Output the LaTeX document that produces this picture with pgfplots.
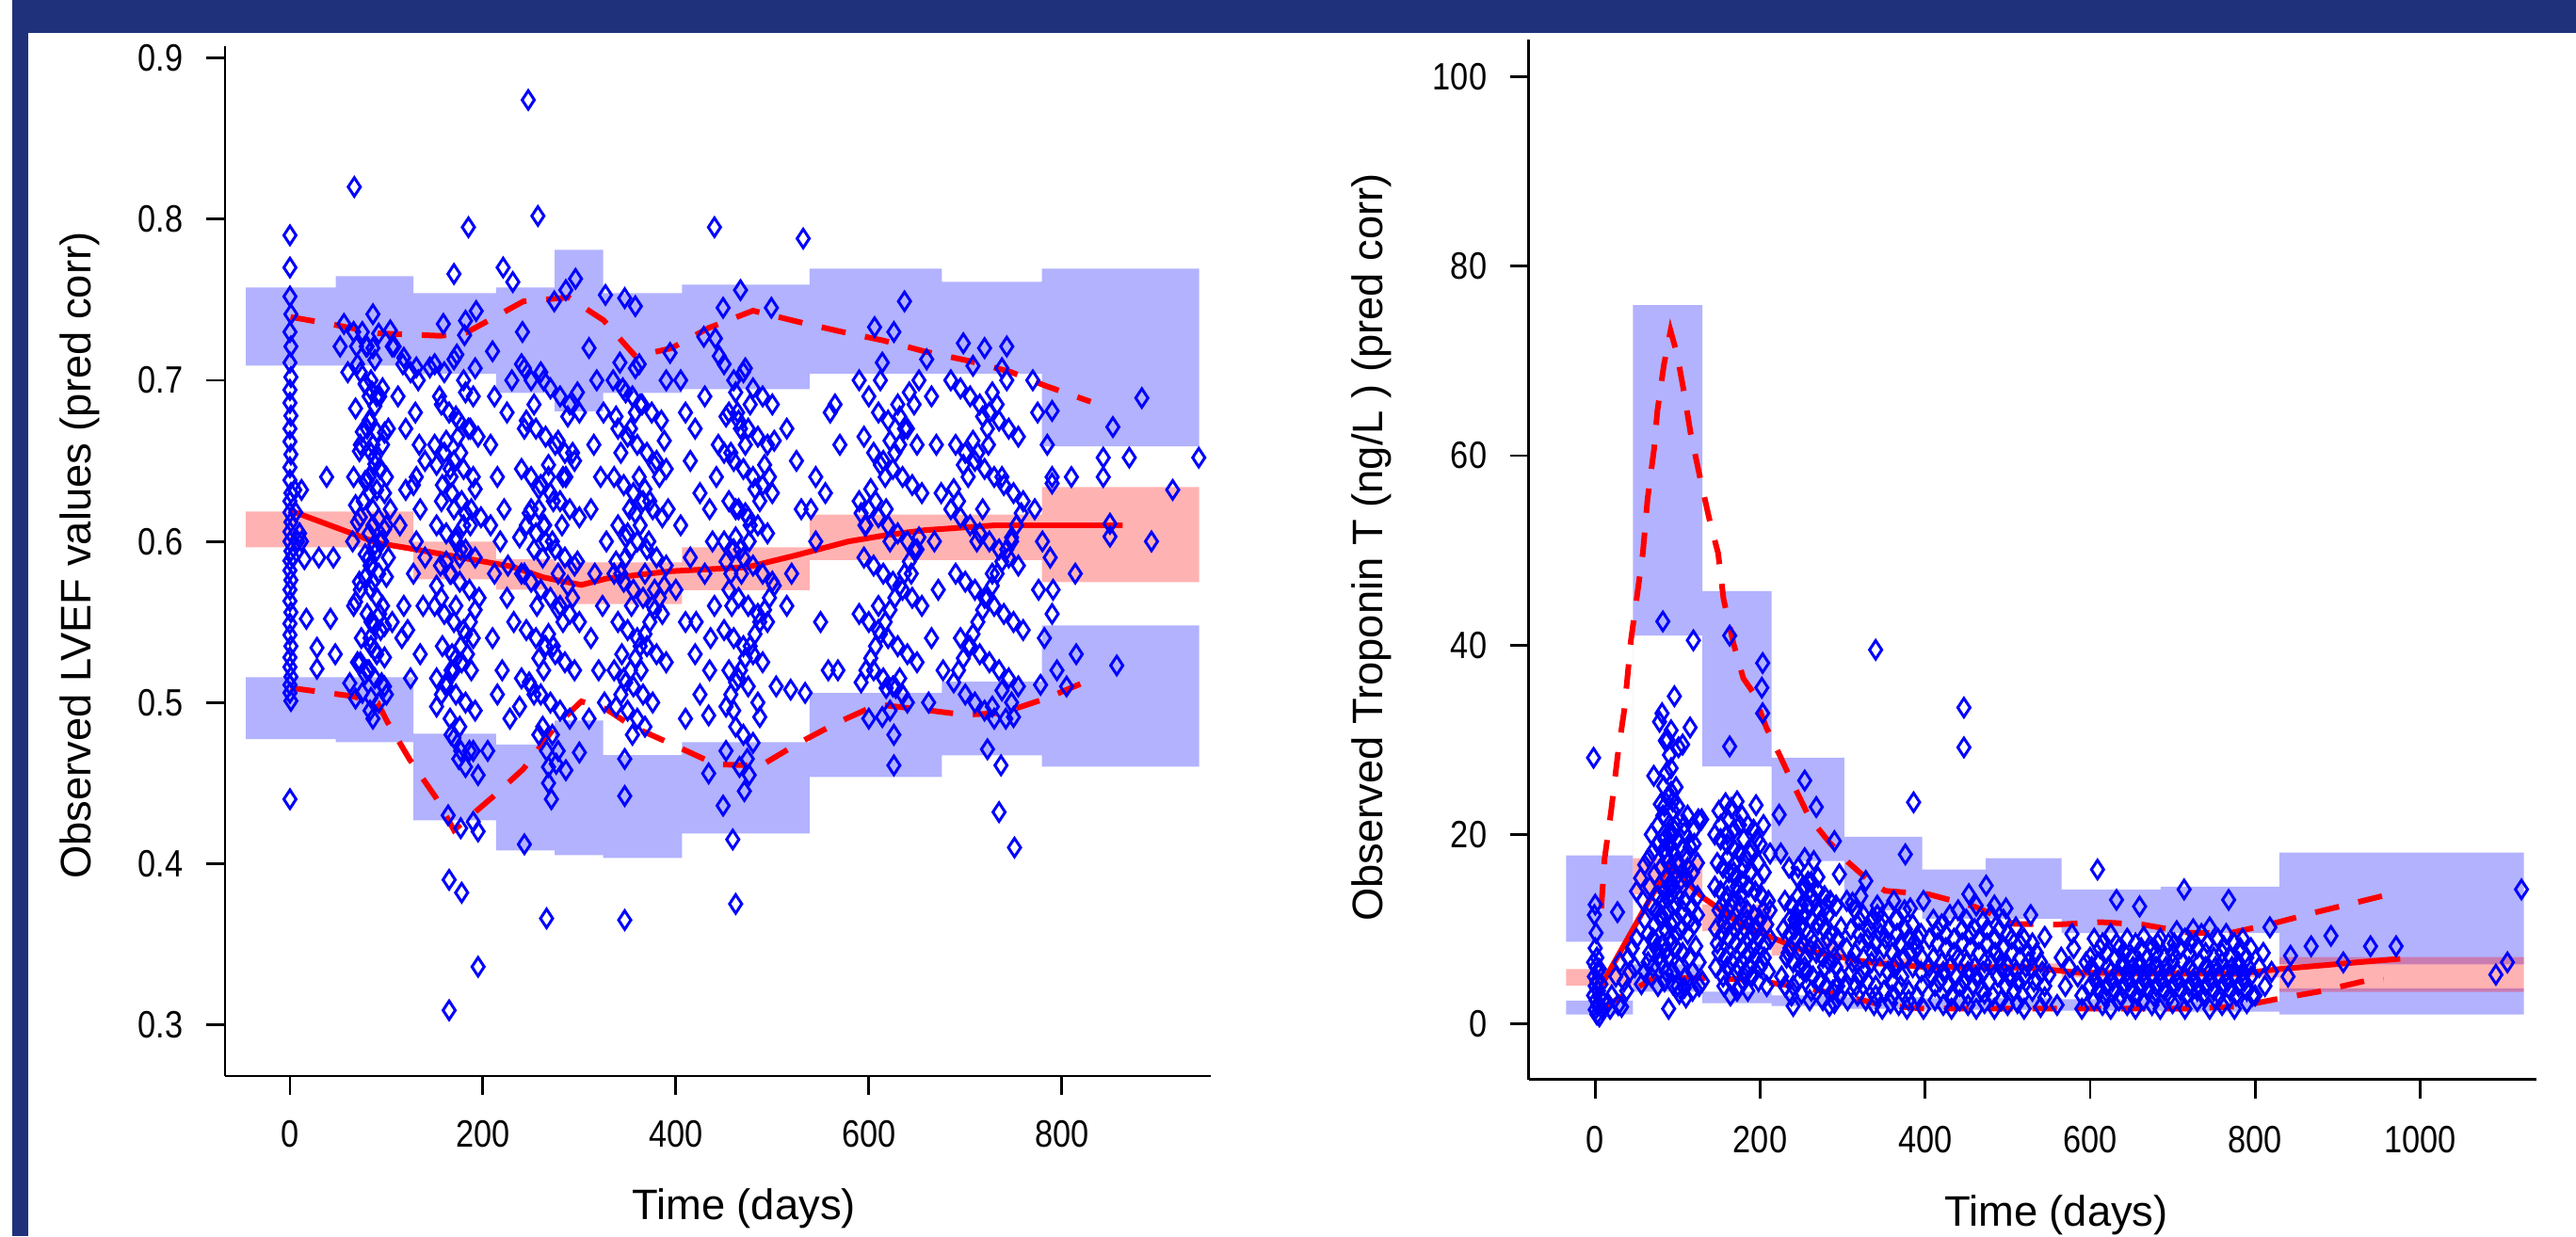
\documentclass[border=0pt]{standalone}
\usepackage{fontspec}
\setmainfont{Liberation Sans}
\newfontfamily\narrowsans[FakeStretch=0.85]{Liberation Sans}
\usepackage{pgfplots}
\pgfplotsset{compat=1.18}

\definecolor{navy}{RGB}{31,49,122}

\pgfplotsset{
  vpc/.style={
    scale only axis,
    anchor=south west,
    axis x line*=bottom,
    axis y line*=left,
    axis line style={line width=0.8pt},
    tick style={line width=0.8pt, black},
    tick align=outside,
    major tick length=2mm,
    tick label style={font=\narrowsans\fontsize{11.5}{13}\selectfont},
    label style={font=\fontsize{12.9}{15}\selectfont},
    /pgf/number format/assume math mode=true,
    /pgf/number format/1000 sep={},
    yticklabel style={anchor=east, xshift=-1.2mm},
  },
  band/.style={draw=none, fill=blue, fill opacity=0.3},
  pband/.style={draw=none, fill=red, fill opacity=0.3},
  obs/.style={only marks, mark=diamond, mark size=2.8pt, blue, mark options={xscale=0.88, line width=0.85pt}},
  med/.style={red, line width=1.7pt, no marks},
  pct/.style={red, line width=1.7pt, no marks, dash pattern=on 2.6mm off 2.1mm},
}

\begin{document}
\begin{tikzpicture}
\path[use as bounding box] (0,0) rectangle (273.6mm,131.3mm);
\fill[navy] (1.33mm,0) rectangle (2.97mm,131.3mm);
\fill[navy] (1.33mm,127.8mm) rectangle (273.6mm,131.3mm);

% ---------------- left: LVEF ----------------
\begin{axis}[vpc,
  at={(23.9mm,17.0mm)}, width=104.7mm, height=109.4mm,
  xmin=-67.3, xmax=954.5, ymin=0.2682, ymax=0.9074,
  xtick={0,200,400,600,800},
  ytick={0.3,0.4,0.5,0.6,0.7,0.8,0.9},
  xticklabel style={anchor=center, yshift=-4.2mm},
  yticklabel style={/pgf/number format/.cd, fixed, precision=1},
  xlabel={Time (days)},
  ylabel={Observed LVEF values (pred corr)},
  xlabel style={at={(axis description cs:0.5263,-0.1289)}, anchor=center},
  ylabel style={at={(axis description cs:-0.1471,0.5055)}, anchor=center},
]
% prediction intervals of the 5th and 95th percentiles
\addplot[band] coordinates {
 (-45.6,0.7576) (47.4,0.7576) (47.4,0.7646) (128.0,0.7646) (128.0,0.7541) (213.7,0.7541)
 (213.7,0.7576) (274.4,0.7576) (274.4,0.7810) (324.6,0.7810) (324.6,0.7541) (406.5,0.7541)
 (406.5,0.7594) (538.5,0.7594) (538.5,0.7693) (675.7,0.7693) (675.7,0.7611) (779.3,0.7611)
 (779.3,0.7693) (942.3,0.7693) (942.3,0.6590) (779.3,0.6590) (779.3,0.7042) (538.5,0.7042)
 (538.5,0.6945) (406.5,0.6945) (406.5,0.6922) (324.6,0.6922) (324.6,0.6808) (274.4,0.6808)
 (274.4,0.6922) (213.7,0.6922) (213.7,0.7042) (128.0,0.7042) (128.0,0.7091) (-45.6,0.7091)
} -- cycle;
\addplot[band] coordinates {
 (-45.6,0.5157) (128.0,0.5157) (128.0,0.4807) (213.7,0.4807) (213.7,0.4740) (274.4,0.4740)
 (274.4,0.4888) (324.6,0.4888) (324.6,0.4674) (406.5,0.4674) (406.5,0.4754) (538.5,0.4754)
 (538.5,0.5060) (675.7,0.5060) (675.7,0.5130) (779.3,0.5130) (779.3,0.5479) (942.3,0.5479)
 (942.3,0.4602) (779.3,0.4602) (779.3,0.4672) (675.7,0.4672) (675.7,0.4538) (538.5,0.4538)
 (538.5,0.4187) (406.5,0.4187) (406.5,0.4035) (324.6,0.4035) (324.6,0.4053) (274.4,0.4053)
 (274.4,0.4082) (213.7,0.4082) (213.7,0.4269) (128.0,0.4269) (128.0,0.4754) (47.4,0.4754)
 (47.4,0.4773) (-45.6,0.4773)
} -- cycle;
% prediction interval of the median
\addplot[pband] coordinates {
 (-45.6,0.6186) (128.0,0.6186) (128.0,0.5999) (213.7,0.5999) (213.7,0.5889) (274.4,0.5889)
 (274.4,0.5870) (406.5,0.5870) (406.5,0.5963) (538.5,0.5963) (538.5,0.6166) (779.3,0.6166)
 (779.3,0.6337) (942.3,0.6337) (942.3,0.5747) (779.3,0.5747) (779.3,0.5884) (538.5,0.5884)
 (538.5,0.5698) (406.5,0.5698) (406.5,0.5611) (274.4,0.5611) (274.4,0.5701) (213.7,0.5701)
 (213.7,0.5765) (128.0,0.5765) (128.0,0.5963) (-45.6,0.5963)
} -- cycle;

% observations
\addplot[obs] coordinates {
 (0,0.790) (0,0.770) (0,0.752) (1,0.741) (0,0.730) (1,0.721) (0,0.711) (1,0.702) (0,0.694)
 (0,0.686) (1,0.678) (0,0.670) (0,0.662) (1,0.654) (0,0.646) (0,0.638) (1,0.630) (0,0.625)
 (0,0.618) (1,0.612) (0,0.606) (0,0.600) (1,0.594) (0,0.588) (0,0.582) (1,0.576) (0,0.570)
 (0,0.563) (1,0.556) (0,0.549) (0,0.542) (1,0.535) (0,0.528) (0,0.522) (1,0.516) (0,0.511)
 (0,0.506) (1,0.501) (0,0.440) (5,0.632) (8,0.600) (6,0.618) (3,0.590) (10,0.605) (12,0.632)
 (12,0.600) (15,0.589) (28,0.521) (38,0.640) (30,0.590) (17,0.552) (42,0.552) (28,0.534)
 (45,0.590) (47,0.530)
 (56,0.735) (66,0.730) (75,0.730) (80,0.721) (86,0.741) (92,0.729) (104,0.731) (108,0.721)
 (60,0.705) (70,0.710) (78,0.698) (85,0.693) (90,0.690) (96,0.695) (88,0.684) (82,0.675)
 (75,0.668) (90,0.668) (96,0.660) (72,0.656) (84,0.655) (88,0.648) (94,0.645) (66,0.640)
 (80,0.638) (90,0.632) (98,0.630) (76,0.625) (86,0.620) (92,0.614) (100,0.610) (70,0.612)
 (82,0.605) (88,0.598) (95,0.600) (65,0.600) (78,0.592) (85,0.585) (92,0.580) (100,0.578)
 (72,0.575) (84,0.570) (90,0.565) (96,0.560) (66,0.560) (80,0.555) (88,0.548) (94,0.545)
 (74,0.540) (84,0.535) (90,0.530) (98,0.528) (70,0.525) (80,0.520) (88,0.515) (95,0.512)
 (62,0.512) (75,0.506) (84,0.503) (92,0.500) (100,0.505) (86,0.490) (102,0.590) (104,0.620)
 (106,0.550) (100,0.640) (102,0.670) (84,0.700) (86,0.720) (82,0.690) (80,0.670) (86,0.660)
 (82,0.640) (86,0.610) (82,0.590) (86,0.575) (84,0.550) (82,0.520) (52,0.721) (69,0.721)
 (79,0.721) (106,0.721) (66.7,0.820)
 (68,0.5025) (78,0.5175) (88,0.5325) (98,0.5475) (68,0.5625) (78,0.5775) (88,0.5925)
 (98,0.6075) (68,0.6225) (78,0.6375) (88,0.6525) (98,0.6675) (68,0.6825) (78,0.6975)
 (88,0.7125) (98,0.5100) (73,0.5250) (83,0.5400) (93,0.5550) (73,0.5700) (83,0.5850)
 (93,0.6000) (73,0.6150) (83,0.6300) (93,0.6450) (73,0.6600) (83,0.6750) (93,0.6900)
 (73,0.7050) (83,0.4950)
 (118,0.714) (125,0.705) (130,0.680) (131,0.640) (120,0.632) (135,0.620) (131,0.600)
 (128,0.580) (118,0.560) (122,0.545) (135,0.530) (125,0.515) (140,0.650) (138,0.560)
 (114,0.610) (120,0.670) (133,0.700) (112,0.690) (128,0.635) (140,0.590) (116,0.540)
 (134,0.660) (117,0.710) (131,0.708) (145,0.708)
 (150,0.710) (160,0.705) (170,0.713) (180,0.700) (190,0.690) (155,0.690) (165,0.680)
 (175,0.675) (185,0.670) (195,0.665) (150,0.660) (160,0.655) (170,0.650) (180,0.645)
 (190,0.640) (158,0.635) (168,0.630) (178,0.625) (188,0.620) (198,0.615) (152,0.610)
 (162,0.605) (172,0.600) (182,0.595) (192,0.590) (156,0.585) (166,0.580) (176,0.575)
 (186,0.570) (196,0.565) (150,0.560) (160,0.555) (170,0.550) (180,0.545) (190,0.540)
 (158,0.535) (168,0.530) (178,0.525) (188,0.520) (152,0.515) (162,0.510) (172,0.505)
 (182,0.500) (192,0.495) (166,0.490) (176,0.485) (170,0.478) (186,0.470) (175,0.465)
 (182,0.460) (190,0.470) (195,0.455) (164,0.430) (177,0.422) (190,0.426) (195,0.420)
 (165,0.390) (178,0.382) (195,0.336) (165,0.309) (170,0.620) (172,0.560) (176,0.590)
 (166,0.645) (174,0.665) (180,0.610) (184,0.530) (170,0.520) (170,0.766) (185,0.795)
 (193,0.743) (182,0.737) (159,0.735) (181,0.728) (173,0.716)
 (152,0.4975) (162,0.5125) (172,0.5275) (182,0.5425) (192,0.5575) (152,0.5725) (162,0.5875)
 (172,0.6025) (182,0.6175) (192,0.6325) (152,0.6475) (162,0.6625) (172,0.6775) (182,0.6925)
 (192,0.7075) (157,0.5050) (167,0.5200) (177,0.5350) (187,0.5500) (157,0.5650) (167,0.5800)
 (177,0.5950) (187,0.6100) (157,0.6250) (167,0.6400) (177,0.6550) (187,0.6700) (157,0.6850)
 (167,0.4800) (177,0.4700)
 (210,0.718) (221,0.770) (231,0.761) (208,0.660) (215,0.640) (222,0.620) (218,0.600)
 (212,0.580) (225,0.565) (210,0.540) (220,0.520) (215,0.505) (228,0.490) (205,0.470)
 (225,0.680) (230,0.700) (212,0.690) (232,0.550) (208,0.610) (226,0.585)
 (241,0.730) (247,0.874) (257,0.802) (274,0.749) (286,0.756) (296,0.763) (240,0.710)
 (250,0.700) (260,0.705) (270,0.695) (280,0.690) (290,0.685) (300,0.680) (245,0.675)
 (255,0.670) (265,0.665) (275,0.660) (285,0.655) (295,0.650) (240,0.645) (250,0.640)
 (260,0.635) (270,0.630) (280,0.625) (290,0.620) (300,0.615) (245,0.610) (255,0.605)
 (265,0.600) (275,0.595) (285,0.590) (295,0.585) (240,0.580) (250,0.575) (260,0.570)
 (270,0.565) (280,0.560) (290,0.555) (300,0.550) (245,0.545) (255,0.540) (265,0.535)
 (275,0.530) (285,0.525) (295,0.520) (240,0.515) (250,0.510) (260,0.505) (270,0.500)
 (280,0.495) (290,0.490) (262,0.485) (272,0.480) (266,0.470) (276,0.462) (286,0.458)
 (300,0.469) (243,0.412) (266,0.366) (271,0.440) (268,0.450) (258,0.620) (264,0.610)
 (262,0.590) (268,0.640) (272,0.600) (256,0.560) (282,0.610) (278,0.580) (250,0.620)
 (286,0.640)
 (238,0.4975) (248,0.5125) (258,0.5275) (268,0.5425) (278,0.5575) (288,0.5725) (298,0.5875)
 (238,0.6025) (248,0.6175) (258,0.6325) (268,0.6475) (278,0.6625) (288,0.6775) (298,0.6925)
 (243,0.7075) (253,0.5050) (263,0.5200) (273,0.5350) (283,0.5500) (293,0.5650) (243,0.5800)
 (253,0.5950) (263,0.6100) (273,0.6250) (283,0.6400) (293,0.6550) (243,0.6700) (253,0.6850)
 (263,0.7000) (258,0.4800) (268,0.4600) (278,0.4700)
 (310,0.720) (318,0.700) (325,0.680) (315,0.660) (322,0.640) (312,0.620) (328,0.600)
 (316,0.580) (324,0.560) (312,0.540) (320,0.520) (326,0.500) (327,0.753) (310,0.490)
 (342,0.711) (347,0.751) (358,0.746) (362,0.710) (335,0.700) (345,0.695) (355,0.690)
 (365,0.685) (375,0.680) (385,0.675) (340,0.670) (350,0.665) (360,0.660) (370,0.655)
 (380,0.650) (390,0.645) (336,0.640) (346,0.635) (356,0.630) (366,0.625) (376,0.620)
 (386,0.615) (340,0.610) (350,0.605) (360,0.600) (370,0.595) (380,0.590) (390,0.585)
 (336,0.580) (346,0.575) (356,0.570) (366,0.565) (376,0.560) (386,0.555) (340,0.550)
 (350,0.545) (360,0.540) (370,0.535) (380,0.530) (390,0.525) (336,0.520) (346,0.515)
 (356,0.510) (366,0.505) (376,0.500) (350,0.495) (360,0.490) (347,0.465) (347,0.442)
 (347,0.365) (352,0.620) (348,0.590) (354,0.560) (344,0.530) (358,0.680) (362,0.640)
 (368,0.580) (372,0.600) (378,0.570) (364,0.520) (394,0.717) (390,0.700) (392,0.620)
 (338,0.4975) (348,0.5125) (358,0.5275) (368,0.5425) (378,0.5575) (388,0.5725) (338,0.5875)
 (348,0.6025) (358,0.6175) (368,0.6325) (378,0.6475) (388,0.6625) (338,0.6775) (348,0.6925)
 (358,0.7075) (343,0.5050) (353,0.5200) (363,0.5350) (373,0.5500) (383,0.5650) (343,0.5800)
 (353,0.5950) (363,0.6100) (373,0.6250) (383,0.6400) (343,0.6550) (353,0.6700) (363,0.6850)
 (368,0.4850) (355,0.4800)
 (405,0.700) (410,0.680) (420,0.670) (430,0.690) (441,0.726) (429,0.727) (445,0.715)
 (440,0.795) (415,0.650) (425,0.630) (435,0.620) (405,0.610) (415,0.590) (430,0.580)
 (440,0.560) (410,0.550) (420,0.530) (435,0.520) (425,0.505) (434,0.492) (410,0.490)
 (400,0.570) (438,0.600) (442,0.640) (444,0.660) (434,0.456) (421,0.550) (436,0.540)
 (449,0.745) (467,0.756) (499,0.745) (450,0.710) (460,0.700) (470,0.705) (480,0.695)
 (490,0.690) (500,0.685) (455,0.680) (465,0.675) (475,0.670) (485,0.665) (495,0.660)
 (450,0.655) (460,0.650) (470,0.645) (480,0.640) (490,0.635) (500,0.630) (455,0.625)
 (465,0.620) (475,0.615) (485,0.610) (495,0.605) (450,0.600) (460,0.595) (470,0.590)
 (480,0.585) (490,0.580) (500,0.575) (455,0.570) (465,0.565) (475,0.560) (485,0.555)
 (495,0.550) (450,0.545) (460,0.540) (470,0.535) (480,0.530) (490,0.525) (455,0.520)
 (465,0.515) (475,0.510) (485,0.500) (460,0.495) (487,0.491) (449,0.436) (471,0.445)
 (459,0.415) (462,0.375) (452,0.470) (466,0.460) (474,0.465) (480,0.475) (470,0.480)
 (462,0.620) (468,0.580) (476,0.600) (458,0.560) (472,0.660) (464,0.680)
 (452,0.4975) (462,0.5125) (472,0.5275) (482,0.5425) (492,0.5575) (502,0.5725) (452,0.5875)
 (462,0.6025) (472,0.6175) (482,0.6325) (492,0.6475) (502,0.6625) (452,0.6775) (462,0.6925)
 (472,0.7075) (457,0.5050) (467,0.5200) (477,0.5350) (487,0.5500) (497,0.5650) (457,0.5800)
 (467,0.5950) (477,0.6100) (487,0.6250) (497,0.6400) (457,0.6550) (467,0.6700) (477,0.6850)
 (462,0.4850) (476,0.4550)
 (532,0.788) (504,0.510) (519,0.508) (534,0.506) (515,0.670) (525,0.650) (540,0.620)
 (515,0.560) (545,0.600) (555,0.630) (560,0.680) (565,0.685) (550,0.550) (570,0.660)
 (520,0.580) (558,0.520) (568,0.520) (545,0.640) (530,0.620)
 (606,0.733) (626,0.730) (614,0.711) (637,0.749) (590,0.700) (600,0.690) (610,0.680)
 (620,0.675) (630,0.685) (640,0.670) (650,0.660) (595,0.665) (605,0.655) (615,0.650)
 (625,0.645) (635,0.640) (645,0.635) (655,0.630) (590,0.625) (600,0.620) (610,0.615)
 (620,0.610) (630,0.605) (640,0.600) (650,0.595) (595,0.590) (605,0.585) (615,0.580)
 (625,0.575) (635,0.570) (645,0.565) (655,0.560) (590,0.555) (600,0.550) (610,0.545)
 (620,0.540) (630,0.535) (640,0.530) (650,0.525) (605,0.520) (615,0.515) (625,0.510)
 (635,0.505) (618,0.509) (628,0.509) (640,0.500) (626,0.461) (626,0.480) (614,0.491)
 (600,0.490) (618,0.620) (622,0.600) (610,0.560) (632,0.660) (644,0.580) (596,0.610)
 (660,0.713) (652,0.700)
 (592,0.5125) (602,0.5275) (612,0.5425) (622,0.5575) (632,0.5725) (642,0.5875) (652,0.6025)
 (592,0.6175) (602,0.6325) (612,0.6475) (622,0.6625) (632,0.6775) (642,0.6925) (597,0.5200)
 (607,0.5350) (617,0.5500) (627,0.5650) (637,0.5800) (647,0.5950) (597,0.6100) (607,0.6250)
 (617,0.6400) (627,0.6550) (637,0.6700) (647,0.6850) (612,0.7000) (622,0.4950) (632,0.5150)
 (665,0.690) (670,0.660) (675,0.630) (668,0.600) (672,0.570) (665,0.540) (677,0.520)
 (662,0.500)
 (698,0.723) (720,0.720) (743,0.721) (708,0.709) (685,0.700) (695,0.695) (705,0.690)
 (715,0.685) (725,0.680) (735,0.675) (745,0.670) (755,0.665) (690,0.660) (700,0.655)
 (710,0.650) (720,0.645) (730,0.640) (740,0.635) (750,0.630) (760,0.625) (685,0.620)
 (695,0.615) (705,0.610) (715,0.605) (725,0.600) (735,0.595) (745,0.590) (755,0.585)
 (690,0.580) (700,0.575) (710,0.570) (720,0.565) (730,0.560) (740,0.555) (750,0.550)
 (760,0.545) (695,0.540) (705,0.535) (715,0.530) (725,0.525) (735,0.520) (745,0.515)
 (755,0.510) (700,0.505) (710,0.500) (720,0.495) (730,0.490) (723,0.471) (737,0.461)
 (735,0.432) (751,0.410) (742,0.490) (750,0.491) (718,0.620) (728,0.580) (712,0.600)
 (738,0.640) (724,0.660) (748,0.600)
 (688,0.5125) (698,0.5275) (708,0.5425) (718,0.5575) (728,0.5725) (738,0.5875) (748,0.6025)
 (758,0.6175) (688,0.6325) (698,0.6475) (708,0.6625) (718,0.6775) (728,0.6925) (738,0.7075)
 (693,0.5200) (703,0.5350) (713,0.5500) (723,0.5650) (733,0.5800) (743,0.5950) (753,0.6100)
 (693,0.6250) (703,0.6400) (713,0.6550) (723,0.6700) (733,0.6850) (743,0.7000) (748,0.5000)
 (738,0.5075) (728,0.4975)
 (770,0.700) (775,0.680) (785,0.660) (790,0.640) (772,0.620) (780,0.600) (788,0.590)
 (776,0.570) (790,0.555) (782,0.540) (795,0.520) (778,0.511) (790,0.681) (790,0.636)
 (843,0.652) (843,0.640) (850,0.611) (850,0.603) (870,0.652) (883,0.689) (853,0.671)
 (893,0.600) (915,0.632) (942,0.652) (814,0.580) (791,0.570) (857,0.523) (805,0.510)
 (815,0.530) (810,0.640)
};

% percentiles of the observations
\addplot[pct] coordinates {
 (0.6,0.7393) (45,0.7346) (91,0.7292) (156,0.7276) (183,0.7296) (242,0.7490) (289,0.7514)
 (325,0.7373) (358,0.7150) (395,0.7198) (434,0.7325) (480,0.7432) (526,0.7364) (569,0.7305)
 (615,0.7247) (658,0.7179) (704,0.7120) (747,0.7052) (784,0.6964) (830,0.6867)
};
\addplot[pct] coordinates {
 (0.6,0.5091) (64,0.5040) (91,0.4997) (101,0.4880) (124,0.4647) (151,0.4413) (170,0.4208)
 (210,0.4413) (242,0.4588) (275,0.4851) (302,0.5007) (328,0.4959) (355,0.4851) (395,0.4744)
 (441,0.4617) (488,0.4608) (526,0.4744) (566,0.4871) (609,0.4988) (652,0.4959) (699,0.4924)
 (738,0.4935) (784,0.5026) (830,0.5143)
};
\addplot[med] coordinates {
 (0.6,0.6191) (91,0.5990) (130.6,0.5950) (177,0.5900) (230,0.5844) (262.6,0.5777)
 (302,0.5730) (328.5,0.5770) (394.5,0.5815) (474,0.5840) (526.5,0.5917) (579,0.6000)
 (619,0.6040) (658.5,0.6070) (731,0.6100) (863,0.6100)
};
\end{axis}

% ---------------- right: troponin T ----------------
\begin{axis}[vpc,
  at={(162.36mm,16.62mm)}, width=107.04mm, height=110.48mm,
  xmin=-80.7, xmax=1141.2, ymin=-5.88, ymax=103.94,
  xtick={0,200,400,600,800,1000},
  ytick={0,20,40,60,80,100},
  xticklabel style={anchor=center, yshift=-4.4mm},
  xlabel={Time (days)},
  ylabel={Observed Troponin T (ng/L ) (pred corr)},
  xlabel style={at={(axis description cs:0.5235,-0.1302)}, anchor=center},
  ylabel style={at={(axis description cs:-0.1556,0.5117)}, anchor=center},
]
\addplot[band] coordinates {
 (-35.2,17.8) (45.7,17.8) (45.7,75.9) (129.8,75.9) (129.8,45.7) (213.9,45.7) (213.9,28.1)
 (301.9,28.1) (301.9,19.75) (396.5,19.75) (396.5,16.3) (473.4,16.3) (473.4,17.5) (565.4,17.5)
 (565.4,14.2) (685.5,14.2) (685.5,14.5) (829.7,14.5) (829.7,18.1) (1126,18.1) (1126,6.3)
 (829.7,6.3) (829.7,9.6) (565.4,9.6) (565.4,11.1) (396.5,11.1) (396.5,12.0) (301.9,12.0)
 (301.9,17.2) (213.9,17.2) (213.9,27.2) (129.8,27.2) (129.8,41.0) (45.7,41.0) (45.7,8.68)
 (-35.2,8.68)
} -- cycle;
\addplot[band] coordinates {
 (-35.2,2.46) (45.7,2.46) (45.7,6.3) (129.8,6.3) (129.8,3.4) (213.9,3.4) (213.9,3.0)
 (301.9,3.0) (301.9,2.8) (396.5,2.8) (396.5,2.7) (565.4,2.7) (565.4,2.6) (685.5,2.6)
 (685.5,2.4) (829.7,2.4) (829.7,3.75) (1126,3.75) (1126,1.0) (829.7,1.0) (829.7,1.3)
 (685.5,1.3) (685.5,1.4) (565.4,1.4) (565.4,1.5) (396.5,1.5) (396.5,1.6) (301.9,1.6)
 (301.9,1.9) (213.9,1.9) (213.9,2.2) (129.8,2.2) (129.8,3.4) (45.7,3.4) (45.7,1.0)
 (-35.2,1.0)
} -- cycle;
\addplot[pband] coordinates {
 (-35.2,5.78) (45.7,5.78) (45.7,17.5) (129.8,17.5) (129.8,12.6) (213.9,12.6) (213.9,8.7)
 (301.9,8.7) (301.9,6.9) (396.5,6.9) (396.5,6.4) (565.4,6.4) (565.4,5.8) (829.7,5.8)
 (829.7,7.06) (1126,7.06) (1126,3.38) (829.7,3.38) (829.7,4.9) (565.4,4.9) (565.4,5.5)
 (396.5,5.5) (396.5,6.0) (301.9,6.0) (301.9,7.2) (213.9,7.2) (213.9,9.8) (129.8,9.8)
 (129.8,13.7) (45.7,13.7) (45.7,4.05) (-35.2,4.05)
} -- cycle;

\addplot[obs] coordinates {
 (-2,28.1) (0,12.6) (-1,11.5) (1,9.6) (0,8.0) (2,7.0) (-2,6.5) (1,6.0) (3,5.5) (-1,5.0)
 (2,4.5) (0,4.0) (4,3.5) (-2,3.0) (1,2.5) (3,2.0) (0,1.5) (2,1.0) (5,0.8) (6,2.8) (7,4.2)
 (8,1.6) (5,5.8)
 (20,3.0) (25,5.0) (30,6.5) (35,4.5) (40,7.0) (45,8.0) (28,2.0) (38,3.5) (15,2.2) (42,5.5)
 (48,6.0) (50,9.0) (18,1.6) (32,1.8) (27,11.8)
 (82,42.5) (119,40.5) (96,34.6) (81,32.8) (78,31.9) (115,31.3) (106,29.5) (101,29.2)
 (90,28.4) (85,29.9) (71,26.2) (83,25.1) (79,23.2) (85,21.8) (92,27.0) (88,24.0) (94,22.5)
 (98,21.0) (90,20.0) (84,19.5) (76,19.0) (70,18.2) (65,17.5) (60,16.8) (55,15.4) (50,14.0)
 (100,19.5) (105,18.5) (110,17.8) (115,18.7) (120,20.5) (125,21.6) (112,22.0) (108,20.2)
 (95,18.0) (88,17.0) (80,16.5) (72,15.8) (66,14.5) (58,13.0) (102,16.8) (110,15.5)
 (118,16.0) (124,17.0) (92,15.0) (84,14.0) (76,13.5) (68,12.5) (60,11.0) (100,13.5)
 (108,13.0) (116,12.2) (124,13.5) (88,12.0) (80,11.0) (72,10.5) (64,9.5) (96,10.8)
 (104,10.0) (112,9.5) (120,10.5) (90,9.0) (82,8.5) (74,8.0) (66,7.5) (98,8.0) (106,7.5)
 (114,7.0) (122,8.2) (88,7.0) (80,6.5) (70,6.0) (60,5.5) (94,5.5) (102,6.0) (110,5.0)
 (118,5.5) (126,6.5) (84,4.5) (76,4.0) (68,5.0) (56,4.2) (89,1.6) (100,4.0) (108,3.8)
 (130,4.5) (86,26.5) (92,31.0) (98,25.0) (88,30.0) (94,23.5) (82,22.0) (96,20.5) (90,18.8)
 (86,17.8) (92,16.5) (98,15.5) (86,15.5) (92,13.8) (98,12.5) (86,11.5) (92,10.5) (86,9.8)
 (92,8.5) (98,9.5) (86,7.8)
 (64,6.5) (72,8.8) (80,11.5) (88,13.2) (96,14.2) (104,15.2) (112,16.5) (120,19.0) (68,20.0)
 (76,21.0) (84,23.0) (92,24.5) (100,23.0) (108,21.0) (116,14.0) (124,11.5) (70,9.0) (78,7.2)
 (86,5.5) (94,4.2) (102,3.2) (110,2.8) (118,3.5) (126,4.0) (74,12.0) (82,13.0) (90,14.5)
 (98,17.0) (106,12.0) (114,11.0) (90,19.0) (94,20.0) (84,18.5) (96,16.0)
 (163,41.0) (203,38.1) (202,35.5) (203,32.8) (163,29.3) (129,21.6) (195,23.1) (150,22.5)
 (158,23.3) (165,22.8) (172,23.5) (178,22.0) (185,21.0) (192,20.5) (145,20.0) (152,19.5)
 (160,19.0) (168,18.5) (175,18.0) (182,17.5) (190,18.5) (198,17.0) (205,16.0) (148,17.0)
 (155,16.5) (162,16.0) (170,15.5) (178,15.0) (186,14.5) (194,14.0) (202,13.5) (210,13.0)
 (145,14.5) (152,14.0) (160,13.5) (168,13.0) (176,12.5) (184,12.0) (192,11.5) (200,11.0)
 (208,10.5) (150,12.0) (158,11.5) (166,11.0) (174,10.5) (182,10.0) (190,9.5) (198,9.0)
 (206,8.5) (146,10.0) (154,9.5) (162,9.0) (170,8.5) (178,8.0) (186,7.5) (194,7.0) (202,6.5)
 (150,7.5) (158,7.0) (166,6.5) (174,6.0) (182,5.5) (190,5.0) (198,4.5) (210,5.5) (155,5.0)
 (165,4.5) (175,4.0) (185,3.5) (160,6.0) (168,20.5) (175,21.0) (162,21.5) (180,19.5)
 (188,16.0) (160,17.5) (170,17.0) (196,15.0) (212,18.0) (200,19.0) (212,12.0) (205,7.0)
 (148,8.5) (156,10.5) (164,12.5) (172,14.5) (180,16.5) (188,18.0) (196,19.5) (204,21.0)
 (152,21.0) (160,20.0) (168,16.0) (176,13.5) (184,11.0) (192,8.0) (200,6.0) (208,4.0)
 (156,4.0) (164,3.0) (172,3.5) (180,4.5) (188,6.0) (196,10.0) (204,12.0) (212,9.0) (146,6.0)
 (154,12.5) (162,14.5) (170,10.0) (178,6.5) (186,9.0)
 (223,22.1) (254,25.7) (268,22.9) (265,17.2) (290,19.3) (296,15.8) (225,18.0) (235,16.5)
 (245,15.5) (255,14.5) (262,15.0) (270,14.0) (278,13.5) (285,13.0) (292,12.5) (230,13.0)
 (238,12.5) (246,12.0) (254,11.5) (262,11.0) (270,10.5) (278,10.0) (286,9.5) (294,9.0)
 (228,10.0) (236,9.5) (244,9.0) (252,8.5) (260,8.0) (268,7.5) (276,7.0) (284,6.5) (292,6.0)
 (232,7.0) (240,6.5) (248,6.0) (256,5.5) (264,5.0) (272,4.5) (280,4.0) (288,3.5) (296,3.0)
 (240,4.0) (250,3.2) (260,2.5) (240,1.9) (284,1.9) (246,13.5) (258,12.5) (250,10.5)
 (258,9.5) (248,8.0) (256,7.0) (244,10.8) (252,14.5) (242,11.0) (236,8.0) (270,12.0)
 (282,11.5) (298,10.2) (288,8.0)
 (226,5.0) (234,7.5) (242,10.0) (250,12.5) (258,15.0) (266,13.0) (274,11.0) (282,9.0)
 (290,7.0) (298,5.0) (230,4.0) (238,3.0) (246,4.5) (254,6.0) (262,9.0) (270,8.0) (278,6.0)
 (286,5.0) (294,4.0) (246,16.5) (254,17.5) (262,13.5) (236,11.0) (270,15.5) (280,12.5)
 (262,3.5) (276,2.5) (290,2.2)
 (340,39.5) (386,23.4) (376,17.9) (328,15.1) (305,13.0) (315,12.0) (325,11.5) (335,11.0)
 (345,10.5) (355,10.0) (365,11.0) (375,12.0) (385,10.5) (395,9.5) (310,10.0) (320,9.5)
 (330,9.0) (340,8.5) (350,8.0) (360,7.5) (370,8.5) (380,9.0) (390,8.0) (305,8.0) (315,7.5)
 (325,7.0) (335,6.5) (345,6.0) (355,5.5) (365,6.5) (375,7.0) (385,6.0) (395,5.5) (310,5.5)
 (320,5.0) (330,4.5) (340,4.0) (350,3.5) (360,4.5) (370,4.0) (380,3.5) (390,3.0) (318,3.0)
 (328,2.5) (338,2.0) (348,1.6) (358,2.2) (368,2.0) (378,1.6) (398,1.6) (312,12.8)
 (322,13.5) (342,12.5) (362,13.0) (382,12.2) (398,13.0)
 (302,4.0) (312,6.5) (322,8.5) (332,10.0) (342,11.5) (352,9.0) (362,6.0) (372,5.0) (382,7.5)
 (392,9.0) (306,2.5) (316,4.0) (326,5.5) (336,7.5) (346,9.5) (356,12.0) (366,9.5) (376,10.0)
 (386,8.5) (396,7.0) (320,11.0) (360,3.0) (340,3.0) (380,2.5) (396,4.0)
 (447,33.4) (447,29.2) (474,14.6) (453,13.7) (528,11.5) (410,11.0) (420,10.5) (430,11.5)
 (440,12.0) (450,11.0) (460,10.0) (470,10.8) (480,11.5) (490,10.0) (500,9.5) (510,10.2)
 (520,9.0) (530,8.5) (545,9.2) (405,9.0) (415,8.5) (425,8.0) (435,9.0) (445,8.5) (455,8.0)
 (465,7.5) (475,8.5) (485,9.0) (495,8.0) (505,7.5) (515,7.0) (525,7.5) (540,6.5) (410,7.0)
 (420,6.5) (430,6.0) (440,7.0) (450,6.5) (460,6.0) (470,5.5) (480,6.5) (490,7.0) (500,6.0)
 (510,5.5) (520,5.0) (530,5.8) (550,5.2) (408,5.0) (418,4.5) (428,4.0) (438,5.0) (448,4.5)
 (458,4.0) (468,3.5) (478,4.5) (488,5.0) (498,4.0) (508,3.5) (518,3.0) (530,3.5) (545,2.8)
 (412,2.5) (422,2.0) (432,1.6) (442,2.5) (452,2.0) (462,1.6) (472,2.2) (484,1.6) (500,2.0)
 (520,1.6) (540,1.8) (462,12.5) (484,12.5) (498,12.2)
 (405,6.0) (415,10.0) (425,9.5) (435,7.5) (445,10.0) (455,9.5) (465,9.0) (475,10.0)
 (485,7.5) (495,11.0) (505,9.0) (515,8.5) (525,6.5) (535,7.5) (545,4.0) (412,4.0) (422,5.5)
 (432,3.0) (442,4.0) (452,5.5) (462,5.0) (472,6.5) (482,3.0) (492,6.0) (502,5.0) (512,4.5)
 (522,6.0) (532,4.5) (542,5.5) (452,3.0) (472,3.2) (492,2.5) (512,2.2)
 (565,7.0) (575,6.0) (585,5.0) (570,4.0) (580,8.0) (590,3.0) (595,6.5) (560,2.0) (590,1.6)
 (609,16.3) (578,9.5)
 (632,13.1) (660,12.4) (714,14.2) (768,13.1) (605,9.0) (615,8.5) (625,9.5) (635,8.0)
 (645,9.0) (655,8.5) (665,9.2) (675,8.0) (685,9.0) (695,8.5) (705,9.8) (715,9.0) (725,10.0)
 (735,9.5) (745,10.2) (755,9.0) (765,9.5) (775,8.5) (785,9.0) (795,8.0) (600,7.0) (610,6.5)
 (620,7.5) (630,7.0) (640,6.5) (650,7.0) (660,6.5) (670,7.0) (680,7.5) (690,7.0) (700,7.5)
 (710,8.0) (720,7.5) (730,8.0) (740,7.5) (750,7.0) (760,7.5) (770,7.0) (780,6.5) (790,7.0)
 (605,5.5) (615,5.0) (625,5.5) (635,5.0) (645,5.5) (655,5.0) (665,5.5) (675,5.0) (685,5.5)
 (695,5.0) (705,5.5) (715,5.0) (725,5.5) (735,5.0) (745,5.5) (755,5.0) (765,5.5) (775,5.0)
 (785,5.5) (795,5.0) (600,4.0) (610,3.5) (620,4.0) (630,3.5) (640,4.0) (650,3.5) (660,4.0)
 (670,3.5) (680,4.0) (690,3.5) (700,4.0) (710,3.5) (720,4.0) (730,3.5) (740,4.0) (750,3.5)
 (760,4.0) (770,3.5) (780,4.0) (790,3.5) (605,2.5) (615,2.0) (625,1.6) (635,2.5) (645,2.0)
 (655,1.6) (665,2.5) (675,2.0) (685,1.6) (700,2.2) (715,1.6) (730,2.4) (745,1.6) (760,2.0)
 (775,1.6) (790,2.2) (640,6.0) (660,6.0) (680,6.0) (700,6.5) (720,6.0) (740,6.0) (760,6.5)
 (780,6.0)
 (602,6.0) (612,8.0) (622,6.0) (632,8.5) (642,7.5) (652,6.0) (662,8.0) (672,6.0) (682,8.5)
 (692,6.0) (702,8.5) (712,6.5) (722,8.5) (732,6.5) (742,8.5) (752,6.0) (762,8.2) (772,6.0)
 (782,8.0) (792,6.0) (607,4.5) (617,3.0) (627,4.5) (637,3.0) (647,4.5) (657,3.0) (667,4.5)
 (677,3.0) (687,4.5) (697,3.0) (707,4.5) (717,3.0) (727,4.5) (737,3.0) (747,4.5) (757,3.0)
 (767,4.5) (777,3.0) (787,4.5) (797,3.0)
 (818,10.2) (843,7.2) (868,8.2) (892,9.3) (940,8.2) (971,8.2) (907,6.5) (840,5.0)
 (1092,5.2) (1106,6.5) (1123,14.2) (805,6.0) (812,4.0) (820,5.5) (800,3.0) (810,7.5)
};

\addplot[pct] coordinates {
 (7.3,12.2) (11.3,17.4) (19.3,22.5) (27.3,28.4) (35.3,33.2) (43.3,40.5) (57.8,49.75)
 (63.4,55.4) (71.4,60.75) (75.3,64.7) (83.3,69.6) (91.3,73.2) (99.3,70.7) (107.4,66.8)
 (115.4,62.5) (127.4,57.55) (139.4,52.9) (149,49.7) (155.5,44.9) (167.5,40.2) (179.5,36.5)
 (191.4,35.0) (207.4,31.3) (223.5,28.4) (239.5,25.4) (259.5,21.8) (283.6,19.2) (307.6,17.0)
 (331.6,15.15) (351.6,14.05) (403.6,13.7) (459.7,12.4) (507.8,10.56) (559.8,10.49)
 (611.9,10.75) (663.9,10.49) (720,9.63) (768,9.56) (820,10.56) (876,11.84) (928.2,12.94)
 (976,13.98)
};
\addplot[pct] coordinates {
 (7.3,1.55) (27.3,2.65) (71.4,4.86) (123.4,4.86) (187.4,4.67) (235.5,4.05) (291.5,3.2)
 (347.6,1.99) (395.7,1.62) (716,1.62) (780,1.84) (828,2.65) (876,3.39) (940,4.67) (956,4.7)
};
\addplot[med] coordinates {
 (7.3,4.05) (89.7,16.8) (131.4,13.3) (179.5,10.37) (251.5,7.8) (331.6,6.5) (395.7,6.03)
 (523.9,5.96) (587.9,5.4) (780,5.3) (828,5.78) (876,6.14) (924,6.5) (976,6.88)
};
\end{axis}
\end{tikzpicture}
\end{document}
